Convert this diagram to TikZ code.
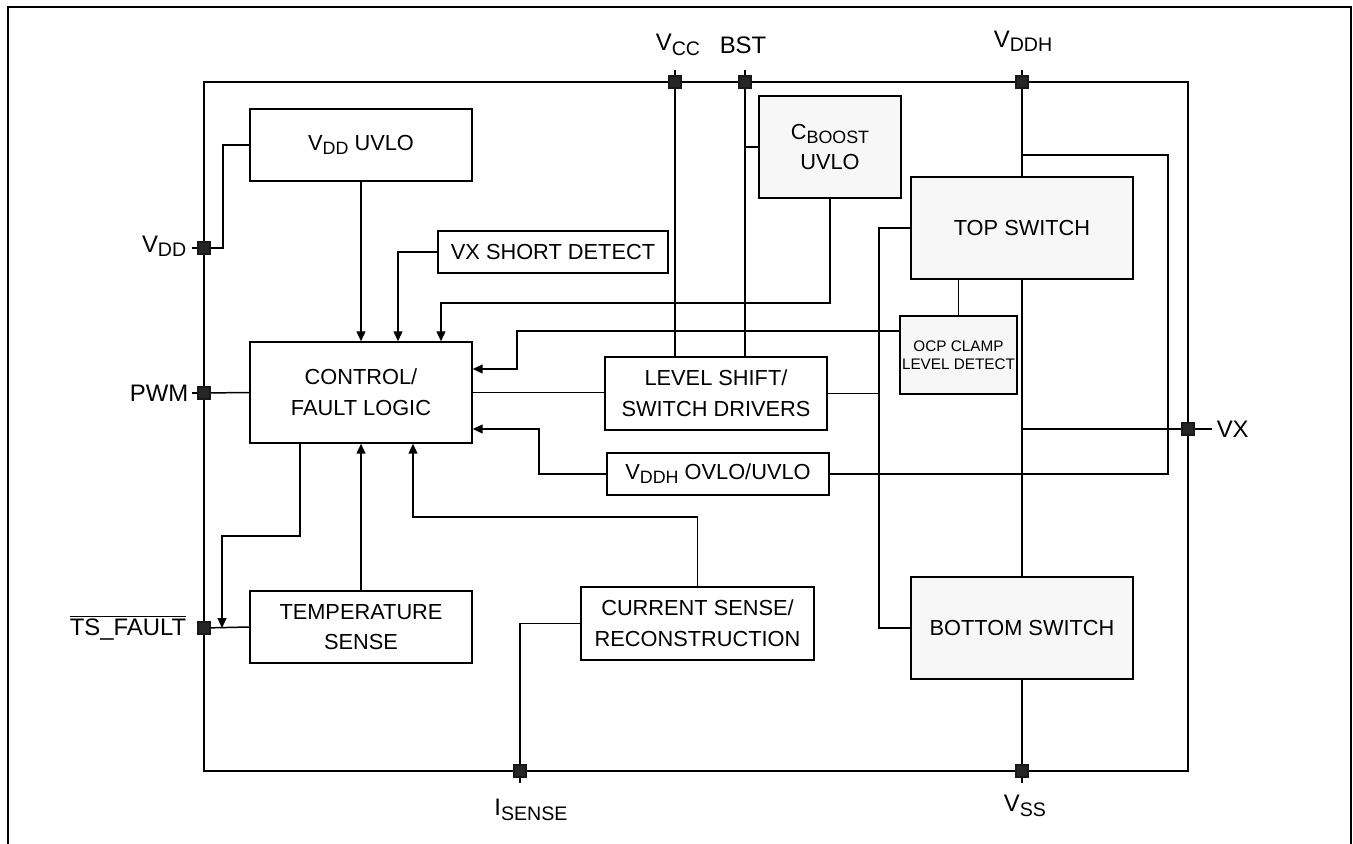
\documentclass[tikz,border=0pt]{standalone}
\usepackage{fontspec}
\setmainfont{Liberation Sans}
\usepackage{graphicx}
\usetikzlibrary{arrows.meta}

\newcommand{\lo}[1]{\raisebox{-0.35ex}{\scalebox{0.82}{#1}}}

\tikzset{
  block/.style={draw, line width=0.85pt, inner sep=0pt, align=center,
    font=\fontsize{12.4}{17.5}\selectfont},
  greyblock/.style={block, fill=black!3},
  pinsq/.style={draw=black!90, fill=black!85, minimum size=0.24cm, inner sep=0pt},
  pinlabel/.style={inner sep=0pt, font=\fontsize{13.6}{15}\selectfont},
  arr/.style={-{Triangle[length=5.6pt,width=5pt]}},
}

\begin{document}
\begin{tikzpicture}[x=0.02cm, y=-0.02cm, line width=0.85pt]
\useasboundingbox (0,0) rectangle (1353,844);
% outer frame and chip outline
\draw[line width=1.1pt] (8,850) -- (8,7) -- (1351,7) -- (1351,850);
\draw (204,82) rectangle (1188,771);

% blocks
\node[block, minimum width=4.44cm, minimum height=1.44cm] (vdduvlo) at (361,145) {V\lo{DD} UVLO};
\node[block, minimum width=4.6cm, minimum height=0.84cm] (vxshort) at (553,252) {VX SHORT DETECT};
\node[greyblock, minimum width=2.84cm, minimum height=2.04cm] (cboost) at (830,147) {C\lo{BOOST}\\UVLO};
\node[greyblock, minimum width=4.44cm, minimum height=2.04cm] (topsw) at (1022,228) {TOP SWITCH};
\node[greyblock, minimum width=2.34cm, minimum height=1.56cm, font=\fontsize{8.7}{10.5}\selectfont] (ocp) at (958.5,355) {OCP CLAMP\\LEVEL DETECT};
\node[block, minimum width=4.44cm, minimum height=2.02cm] (ctrl) at (361,392.5) {CONTROL/\\FAULT LOGIC};
\node[block, minimum width=4.44cm, minimum height=1.46cm] (lvlshift) at (716,393.5) {LEVEL SHIFT/\\SWITCH DRIVERS};
\node[block, minimum width=4.44cm, minimum height=0.84cm] (vddhov) at (718,474) {V\lo{DDH} OVLO/UVLO};
\node[block, minimum width=4.44cm, minimum height=1.44cm] (tempsense) at (361,627) {TEMPERATURE\\SENSE};
\node[block, minimum width=4.66cm, minimum height=1.46cm] (cursense) at (697.5,623.5) {CURRENT SENSE/\\RECONSTRUCTION};
\node[greyblock, minimum width=4.44cm, minimum height=2.04cm] (botsw) at (1022,628) {BOTTOM SWITCH};

% pins
\coordinate (vcc) at (675,82);
\coordinate (bst) at (745,82);
\coordinate (vddh) at (1022,82);
\coordinate (vdd) at (204,248);
\coordinate (pwm) at (204,393);
\coordinate (tsf) at (204,628);
\coordinate (vx) at (1188,429);
\coordinate (isense) at (520,771);
\coordinate (vss) at (1022,771);

% helper points
\coordinate (vddhtap) at (1022,155);
\coordinate (loopx) at (1168,155);
\coordinate (gate) at (879,228);

% wires
\draw (vcc) -- ++(0,-12);
\draw (bst) -- ++(0,-12);
\draw (vddh) -- ++(0,-12);
\draw (vdd) -- ++(-12,0);
\draw (pwm) -- ++(-12,0);
\draw (vx) -- ++(24,0);
\draw (isense) -- ++(0,12);
\draw (vss) -- ++(0,12);
\draw (vcc) -- (vcc |- lvlshift.north);
\draw (bst) -- (bst |- lvlshift.north);
\draw (cboost.west) -- (cboost.west -| bst);
\draw (vddh) -- (topsw.north);
\draw (topsw.south) -- (botsw.north);
\draw (botsw.south) -- (vss);
\draw (vddhtap) -- (loopx) |- (vddhov.east);
\draw (vx) -- (vx -| topsw.south);
\draw (topsw.west) -- (gate) |- (botsw.west);
\draw (lvlshift.east) -- (lvlshift.east -| gate);
\draw (ocp.north) -- (ocp.north |- topsw.south);
\draw (ctrl.east) -- (ctrl.east -| lvlshift.west);
\draw (pwm) -- (ctrl.west);
\draw (tsf) -- (tempsense.west);
\draw (vdd) -- (223,248) |- (vdduvlo.west);
\draw (isense) |- (cursense.west);
\draw[arr] ([yshift=0.48cm]ocp.west) -| (517,369) -- (ctrl.east |- 0,369);
\draw[arr] (vddhov.west) -| (539,429) -- (ctrl.east |- 0,429);
\draw[arr] (cursense.north) |- (413,517) -- (ctrl.south -| 413,0);
\draw[arr] (tempsense.north) -- (ctrl.south);
\draw[arr] (ctrl.south -| 300,0) -- (300,536) -| (tsf -| 222,0);
\draw[arr] (vdduvlo.south) -- (ctrl.north);
\draw[arr] (vxshort.west) -| (ctrl.north -| 398,0);
\draw[arr] (cboost.south) |- (441,303) -- (ctrl.north -| 441,0);

% pin squares
\foreach \p in {vcc,bst,vddh,vdd,pwm,tsf,vx,isense,vss}
  \node[pinsq] at (\p) {};

% pin labels
\node[pinlabel] (vcclbl) at (678,45) {V\lo{CC}};
\node[pinlabel] (bstlbl) at (743,45) {BST};
\node[pinlabel] (vddhlbl) at (1023,41) {V\lo{DDH}};
\node[pinlabel, anchor=east] (vddlbl) at (187,246) {V\lo{DD}};
\node[pinlabel, anchor=east] (pwmlbl) at (189,393) {PWM};
\node[pinlabel, anchor=east] (tsflbl) at (187,628) {$\overline{\mbox{TS\_FAULT}}$};
\node[pinlabel, anchor=west] (vxlbl) at (1216,429) {VX};
\node[pinlabel] (isenselbl) at (531,810) {I\lo{SENSE}};
\node[pinlabel] (vsslbl) at (1025,806) {V\lo{SS}};
\end{tikzpicture}
\end{document}
